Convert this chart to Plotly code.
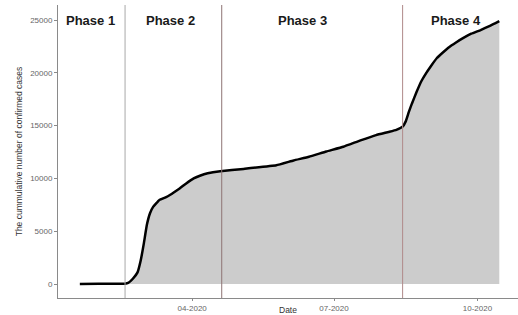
import plotly.graph_objects as go

dates = ["2020-01-20", "2020-02-01", "2020-02-18", "2020-02-20", "2020-02-23", "2020-02-26",
         "2020-02-28", "2020-03-01", "2020-03-03", "2020-03-05", "2020-03-07", "2020-03-11",
         "2020-03-15", "2020-03-18", "2020-03-21", "2020-03-24", "2020-03-28", "2020-04-02",
         "2020-04-06", "2020-04-11", "2020-04-19", "2020-05-04", "2020-05-25", "2020-06-05",
         "2020-06-15", "2020-06-26", "2020-07-07", "2020-07-18", "2020-07-28", "2020-08-05",
         "2020-08-10", "2020-08-14", "2020-08-16", "2020-08-18", "2020-08-20", "2020-08-23",
         "2020-08-26", "2020-08-29", "2020-09-01", "2020-09-05", "2020-09-09", "2020-09-13",
         "2020-09-17", "2020-09-22", "2020-09-27", "2020-10-03", "2020-10-09", "2020-10-15"]
cases = [0, 12, 31, 104, 500, 1100,
         2200, 3800, 5600, 6700, 7300, 7950,
         8200, 8450, 8750, 9050, 9500, 10000,
         10250, 10480, 10680, 10900, 11250, 11700,
         12050, 12550, 13000, 13600, 14100, 14400,
         14600, 14900, 15400, 16300, 17100, 18200,
         19200, 19950, 20600, 21400, 21950, 22450,
         22850, 23300, 23700, 24050, 24450, 24900]

phase_bounds = ["2020-02-18", "2020-04-20", "2020-08-14"]
phase_line_colors = ["#a8a8a8", "#8e7474", "#b08a8a"]
phase_labels = ["Phase 1", "Phase 2", "Phase 3", "Phase 4"]
phase_label_dates = ["2020-01-27", "2020-03-18", "2020-06-11", "2020-09-17"]

tick_vals_x = ["2020-04-01", "2020-07-01", "2020-10-01"]
tick_text_x = ["04-2020", "07-2020", "10-2020"]
tick_vals_y = [0, 5000, 10000, 15000, 20000, 25000]
tick_text_y = ["0", "5000", "10000", "15000", "20000", "25000"]

FONT = "Liberation Sans, Arial, sans-serif"

fig = go.Figure()
fig.add_trace(go.Scatter(
    x=dates, y=cases, mode="lines",
    line=dict(color="black", width=2.5, shape="spline", smoothing=0.3),
    fill="tozeroy", fillcolor="#cccccc", showlegend=False, hoverinfo="skip"))

for d, c in zip(phase_bounds, phase_line_colors):
    fig.add_shape(type="line", xref="x", yref="paper", x0=d, x1=d, y0=0, y1=1,
                  line=dict(color=c, width=1))

for lab, d in zip(phase_labels, phase_label_dates):
    fig.add_annotation(x=d, y=24950, xref="x", yref="y", text="<b>" + lab + "</b>",
                       showarrow=False, font=dict(family=FONT, size=13, color="#1a1a1a"))

fig.add_annotation(x=0.5, y=-0.041, xref="paper", yref="paper", text="Date",
                   showarrow=False, yanchor="middle",
                   font=dict(family=FONT, size=8.5, color="#333333"))

fig.update_layout(
    width=518, height=315,
    margin=dict(l=58, r=0, t=5, b=17),
    paper_bgcolor="white", plot_bgcolor="white",
    font=dict(family=FONT, size=8, color="#666666"),
    xaxis=dict(range=["2020-01-06", "2020-10-27"], showgrid=False, zeroline=False,
               showline=True, linecolor="#8a8a8a", linewidth=1,
               ticks="outside", ticklen=2, tickcolor="#8a8a8a",
               tickvals=tick_vals_x, ticktext=tick_text_x,
               tickfont=dict(family=FONT, size=8, color="#666666"),
               ticklabelstandoff=0, automargin=False),
    yaxis=dict(range=[-1326, 26420], showgrid=False, zeroline=False,
               showline=True, linecolor="#8a8a8a", linewidth=1,
               ticks="outside", ticklen=3, tickcolor="#8a8a8a",
               tickvals=tick_vals_y, ticktext=tick_text_y,
               tickfont=dict(family=FONT, size=8, color="#666666"),
               automargin=False,
               title=dict(text="The cummulative number of confirmed cases",
                          font=dict(family=FONT, size=8.5, color="#333333"),
                          standoff=6)),
)

fig.write_html("out.html", config={"displayModeBar": False},
               post_script="document.body.style.margin='0';")
